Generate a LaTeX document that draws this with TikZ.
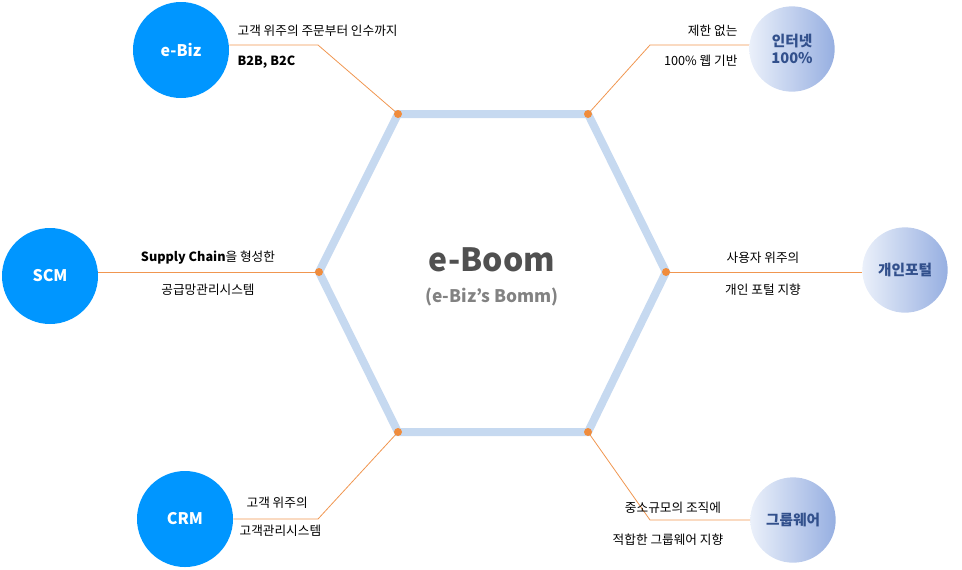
\documentclass[tikz,border=0pt]{standalone}
\usepackage{fontspec}
\setmainfont{Noto Sans CJK KR}
\begin{document}
\begin{tikzpicture}[x=0.75pt,y=-0.75pt,
  hexline/.style={draw={rgb,255:red,198;green,217;blue,240},line width=6pt,line join=miter},
  dot/.style={circle,fill={rgb,255:red,240;green,140;blue,60},inner sep=0,minimum size=6pt},
  conn/.style={draw={rgb,255:red,240;green,150;blue,80},line width=0.6pt},
  bluec/.style={circle,fill={rgb,255:red,0;green,150;blue,255},minimum size=72pt,inner sep=0,text=white,font=\bfseries\fontsize{12}{14}\selectfont},
  lightc/.style={circle,minimum size=64pt,inner sep=0,text={rgb,255:red,50;green,80;blue,140},font=\bfseries\fontsize{11}{13}\selectfont,align=center,shade,shading angle=135,left color={rgb,255:red,235;green,240;blue,250},right color={rgb,255:red,150;green,175;blue,225}},
  lbl/.style={font=\fontsize{9.5}{11}\selectfont,inner sep=1pt}]
\useasboundingbox (0,0) rectangle (962,569);
\coordinate (v1) at (398,114); \coordinate (v2) at (588,114); \coordinate (v3) at (666,272);
\coordinate (v4) at (588,432); \coordinate (v5) at (398,432); \coordinate (v6) at (319,272);
\draw[hexline] (v1)--(v2)--(v3)--(v4)--(v5)--(v6)--cycle;
\node[bluec] (ebiz) at (181,50) {e-Biz};
\node[bluec] (scm) at (50,276) {SCM};
\node[bluec] (crm) at (185,519) {CRM};
\node[lightc] (inet) at (792,49) {인터넷\\100\%};
\node[lightc] (portal) at (905,270) {개인포털};
\node[lightc] (group) at (793,520) {그룹웨어};
\coordinate (a1) at (318,45); \coordinate (a2) at (650,45);
\coordinate (a3) at (318,519); \coordinate (a4) at (650,520);
\draw[conn] (ebiz.east|-a1) -- (a1) -- (v1);
\draw[conn] (v2) -- (a2) -- (inet.west|-a2);
\draw[conn] (scm.east|-v6) -- (v6);
\draw[conn] (v3) -- (portal.west|-v3);
\draw[conn] (crm.east|-a3) -- (a3) -- (v5);
\draw[conn] (v4) -- (a4) -- (group.west|-a4);
\foreach \v in {v1,v2,v3,v4,v5,v6} \node[dot] at (\v) {};
\node[lbl,anchor=west] (t1) at (236,31) {고객 위주의 주문부터 인수까지};
\node[lbl,anchor=west,font=\bfseries\fontsize{9.5}{11}\selectfont] (t2) at (236,62) {B2B, B2C};
\node[lbl,anchor=east] (t3) at (739,31) {제한 없는};
\node[lbl,anchor=east] (t4) at (739,61) {100\% 웹 기반};
\node[lbl] (t5) at (208,258) {\textbf{Supply Chain}을 형성한};
\node[lbl] (t6) at (208,290) {공급망관리시스템};
\node[lbl] (t7) at (763,258) {사용자 위주의};
\node[lbl] (t8) at (763,290) {개인 포털 지향};
\node[lbl,anchor=west] (t9) at (245,503) {고객 위주의};
\node[lbl,anchor=west] (t10) at (238,531) {고객관리시스템};
\node[lbl] (t11) at (673,508) {중소규모의 조직에};
\node[lbl] (t12) at (668,540) {적합한 그룹웨어 지향};
\node[font=\bfseries\fontsize{24}{28}\selectfont,text={rgb,255:red,80;green,80;blue,80}] (c1) at (492,260) {e-Boom};
\node[font=\bfseries\fontsize{13}{15}\selectfont,text={rgb,255:red,130;green,130;blue,130}] (c2) at (492,297) {(e-Biz’s Bomm)};
\end{tikzpicture}
\end{document}
